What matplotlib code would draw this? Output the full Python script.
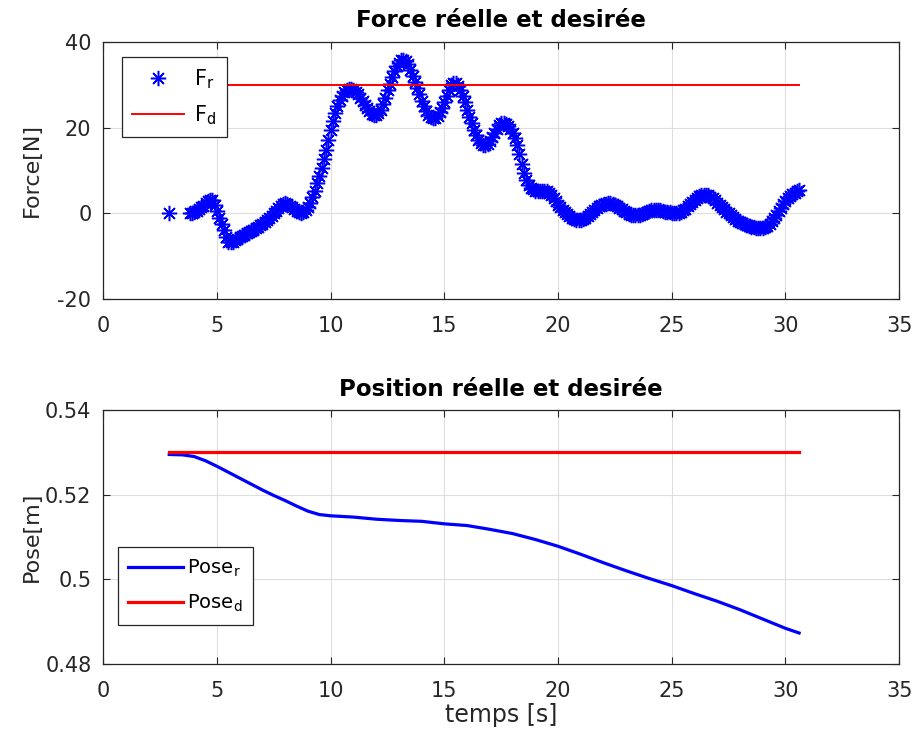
import numpy as np
import matplotlib
matplotlib.use("Agg")
import matplotlib.pyplot as plt
from matplotlib.ticker import FuncFormatter

plt.rcParams['font.family'] = ['DejaVu Sans']
plt.rcParams['axes.unicode_minus'] = False
plt.rcParams['mathtext.fontset'] = 'dejavusans'

# force mesuree : un point isole au debut, puis un echantillon tous les 0.1 s
t_first = [2.9]
force_first = [0.0]
t0_force = 3.8
dt_force = 0.1
force_r = [
    0.0, 0.1, 0.3, 0.6, 1.0, 1.4, 1.8, 2.3, 2.8, 3.1,
    3.0, 2.0, 0.5, -1.0, -2.5, -4.0, -5.5, -6.6, -6.8, -6.6,
    -6.3, -6.0, -5.6, -5.3, -5.0, -4.7, -4.4, -4.1, -3.8, -3.5,
    -3.1, -2.8, -2.4, -2.0, -1.6, -1.1, -0.6, 0.0, 0.6, 1.2,
    1.8, 2.2, 2.3, 2.1, 1.8, 1.4, 0.9, 0.5, 0.2, 0.1,
    0.3, 0.7, 1.5, 2.5, 3.8, 5.3, 7.0, 8.7, 10.5, 12.6,
    14.8, 17.2, 19.5, 21.6, 23.5, 25.1, 26.5, 27.5, 28.3, 28.8,
    29.0, 29.0, 28.8, 28.4, 27.8, 27.0, 26.2, 25.4, 24.6, 23.9,
    23.3, 23.0, 23.0, 23.4, 24.2, 25.5, 27.0, 28.7, 30.3, 31.8,
    33.2, 34.3, 35.2, 35.7, 35.9, 35.6, 34.8, 33.5, 32.0, 30.7,
    29.3, 27.8, 26.3, 25.0, 23.8, 23.0, 22.4, 22.2, 22.3, 22.8,
    23.6, 24.7, 26.0, 27.4, 28.8, 29.9, 30.4, 30.4, 29.8, 28.8,
    27.5, 25.9, 24.2, 22.6, 21.0, 19.5, 18.2, 17.2, 16.4, 16.0,
    15.9, 16.2, 16.8, 17.8, 18.8, 19.8, 20.6, 21.0, 21.0, 20.9,
    20.5, 19.8, 18.8, 17.6, 16.0, 13.8, 11.5, 9.4, 7.8, 6.7,
    6.0, 5.6, 5.3, 5.2, 5.2, 5.3, 5.3, 5.1, 4.8, 4.3,
    3.6, 2.8, 2.0, 1.4, 0.8, 0.3, -0.2, -0.6, -1.0, -1.3,
    -1.5, -1.6, -1.5, -1.3, -1.0, -0.6, -0.2, 0.3, 0.8, 1.2,
    1.6, 1.9, 2.1, 2.2, 2.3, 2.3, 2.2, 1.9, 1.6, 1.2,
    0.9, 0.5, 0.2, -0.1, -0.3, -0.4, -0.5, -0.5, -0.4, -0.2,
    0.0, 0.3, 0.5, 0.7, 0.8, 0.8, 0.8, 0.7, 0.6, 0.4,
    0.3, 0.2, 0.1, 0.0, 0.0, 0.1, 0.3, 0.7, 1.1, 1.6,
    2.2, 2.7, 3.2, 3.6, 4.0, 4.2, 4.3, 4.3, 4.2, 3.9,
    3.5, 3.0, 2.5, 1.9, 1.4, 0.9, 0.4, 0.0, -0.5, -0.9,
    -1.3, -1.7, -2.0, -2.3, -2.6, -2.8, -3.0, -3.2, -3.3, -3.4,
    -3.5, -3.5, -3.4, -3.2, -2.9, -2.4, -1.8, -1.1, -0.3, 0.5,
    1.3, 2.1, 2.8, 3.5, 4.0, 4.4, 4.8, 5.1, 5.4,
]
t_desired = [2.9, 30.6]
force_d = [30, 30]

# position
t_pose = [2.9, 3.5, 4.0, 4.5, 5.0, 5.5, 6.0, 6.5, 7.0, 7.5, 8.0, 8.5, 9.0, 9.5,
          10.0, 11.0, 12.0, 13.0, 14.0, 15.0, 16.0, 17.0, 18.0, 19.0, 20.0,
          21.0, 22.0, 23.0, 24.0, 25.0, 26.0, 27.0, 28.0, 29.0, 30.0, 30.6]
pose_r = [0.5295, 0.5294, 0.5290, 0.5280, 0.5267, 0.5253, 0.5239, 0.5225, 0.5211,
          0.5198, 0.5186, 0.5173, 0.5161, 0.5153, 0.5150, 0.5147, 0.5142, 0.5139,
          0.5137, 0.5131, 0.5127, 0.5118, 0.5108, 0.5094, 0.5078, 0.5059, 0.5039,
          0.5020, 0.5002, 0.4985, 0.4966, 0.4948, 0.4928, 0.4906, 0.4884, 0.4873]
pose_d = [0.53, 0.53]

t_force = np.concatenate([t_first, t0_force + dt_force * np.arange(len(force_r))])
f_all = np.concatenate([force_first, force_r])

fig = plt.figure(figsize=(9.18, 7.51), dpi=100)
ax1 = fig.add_axes([0.1125, 0.602, 0.867, 0.342])
ax2 = fig.add_axes([0.1125, 0.116, 0.867, 0.338])

tick_color = '#262626'


def style(ax):
    ax.grid(True, color='#dedede', linewidth=0.8)
    ax.set_axisbelow(True)
    ax.tick_params(direction='in', top=True, right=True, labelsize=15,
                   colors=tick_color, length=5, width=0.8)
    ax.tick_params(axis='x', pad=12)
    ax.tick_params(axis='y', pad=8.5)
    for s in ax.spines.values():
        s.set_color(tick_color)
        s.set_linewidth(0.9)
    ax.set_xlim(0, 35)
    ax.set_xticks([0, 5, 10, 15, 20, 25, 30, 35])


# asterisque comme le '*' de matlab
ax1.plot(t_force, f_all, linestyle='none', marker=(8, 2, 0), color='#0000ff',
         markersize=11, markeredgewidth=1.1, label=r'F$_\mathregular{r}$')
ax1.plot(t_desired, force_d, color='#ff0000', linewidth=1.4, label=r'F$_\mathregular{d}$')
style(ax1)
ax1.set_ylim(-20, 40)
ax1.set_yticks([-20, 0, 20, 40])
ax1.set_ylabel('Force[N]', fontsize=16, color=tick_color)
ax1.yaxis.set_label_coords(-0.077, 0.5)
ax1.set_title('Force réelle et desirée', fontsize=16.5, fontweight='bold', pad=11)
leg1 = ax1.legend(loc='upper left', bbox_to_anchor=(0.023, 0.942), fontsize=15,
                  fancybox=False, framealpha=1, edgecolor='#262626',
                  handlelength=2.5, handletextpad=0.5, borderaxespad=0,
                  borderpad=0.5, labelspacing=0.6)
leg1.get_frame().set_linewidth(0.9)

ax2.plot(t_pose, pose_r, color='#0000ff', linewidth=2.3, label=r'Pose$_\mathregular{r}$')
ax2.plot(t_desired, pose_d, color='#ff0000', linewidth=2.3, label=r'Pose$_\mathregular{d}$')
style(ax2)
ax2.set_ylim(0.48, 0.54)
ax2.set_yticks([0.48, 0.5, 0.52, 0.54])
ax2.yaxis.set_major_formatter(FuncFormatter(lambda v, p: '%g' % v))
ax2.set_ylabel('Pose[m]', fontsize=16, color=tick_color)
ax2.yaxis.set_label_coords(-0.077, 0.5)
ax2.set_xlabel('temps [s]', fontsize=17, color=tick_color, labelpad=2)
ax2.set_title('Position réelle et desirée', fontsize=16.5, fontweight='bold', pad=10)
leg2 = ax2.legend(loc='lower left', bbox_to_anchor=(0.018, 0.154), fontsize=14,
                  fancybox=False, framealpha=1, edgecolor='#262626',
                  handlelength=2.8, handletextpad=0.2, borderaxespad=0,
                  borderpad=0.55, labelspacing=0.7)
leg2.get_frame().set_linewidth(0.9)

fig.savefig('out.png', dpi=100)
